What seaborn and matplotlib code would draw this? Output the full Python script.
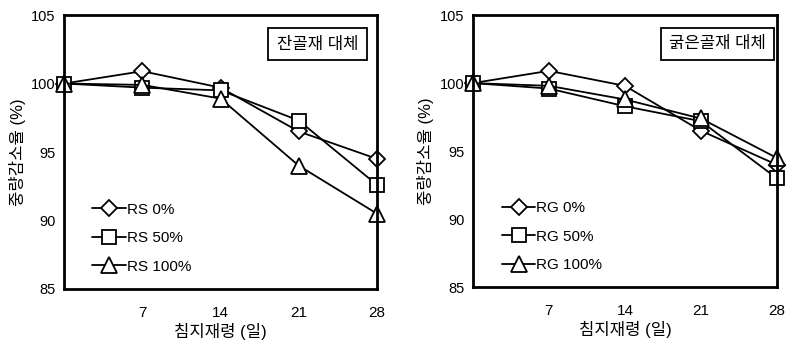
import matplotlib
matplotlib.use("Agg")
import matplotlib.pyplot as plt
import seaborn as sns
import pandas as pd

sns.set_theme(style="white")
plt.rcParams['font.family'] = ['Liberation Sans', 'Noto Sans CJK KR']

days = [0, 7, 14, 21, 28]

rs_labels = ["RS 0%", "RS 50%", "RS 100%"]
rs_0 = [100.0, 100.9, 99.7, 96.5, 94.5]
rs_50 = [100.0, 99.7, 99.5, 97.3, 92.6]
rs_100 = [100.0, 99.9, 98.9, 94.0, 90.5]

rg_labels = ["RG 0%", "RG 50%", "RG 100%"]
rg_0 = [100.0, 100.9, 99.8, 96.5, 94.0]
rg_50 = [100.0, 99.6, 98.3, 97.2, 93.0]
rg_100 = [100.0, 99.8, 98.8, 97.4, 94.5]

panel_titles = ["잔골재 대체", "굵은골재 대체"]
x_ticks = [7, 14, 21, 28]
y_ticks = [85, 90, 95, 100, 105]
x_label = "침지재령 (일)"
y_label = "중량감소율 (%)"


def long_table(labels, series):
    rows = []
    for lab, vals in zip(labels, series):
        for d, v in zip(days, vals):
            rows.append({"day": d, "value": v, "mix": lab})
    return pd.DataFrame(rows)


fig = plt.figure(figsize=(7.92, 3.42), dpi=100)
ax_l = fig.add_axes([0.081, 0.155, 0.395, 0.801])
ax_r = fig.add_axes([0.597, 0.160, 0.384, 0.796])

marker_map = ["D", "s", "^"]
marker_sizes = [8, 10, 12]

for ax, labels, series, title, box_x, leg_x in [
    (ax_l, rs_labels, [rs_0, rs_50, rs_100], panel_titles[0], 0.94, 0.065),
    (ax_r, rg_labels, [rg_0, rg_50, rg_100], panel_titles[1], 0.964, 0.07),
]:
    df = long_table(labels, series)
    for i, lab in enumerate(labels):
        sns.lineplot(
            data=df[df["mix"] == lab], x="day", y="value", ax=ax,
            color="black", linewidth=1.3, marker=marker_map[i],
            markersize=marker_sizes[i], markerfacecolor="white",
            markeredgecolor="black", markeredgewidth=1.3, label=lab,
            zorder=3 + i, clip_on=False,
        )
    ax.set_xlim(0, 28)
    ax.set_ylim(85, 105)
    ax.set_xticks(x_ticks)
    ax.set_yticks(y_ticks)
    ax.tick_params(axis="x", direction="in", length=4, width=1, pad=12,
                   labelsize=11, colors="black")
    ax.tick_params(axis="y", direction="out", length=3, width=1, pad=3,
                   labelsize=10.5, colors="black")
    for sp in ax.spines.values():
        sp.set_linewidth(2)
        sp.set_color("black")
        sp.set_zorder(10)
    ax.set_xlabel(x_label, fontsize=12, labelpad=2, color="black")
    ax.set_ylabel(y_label, fontsize=12, labelpad=4, color="black")
    ax.text(box_x, 0.894, title, transform=ax.transAxes, ha="right", va="center",
            fontsize=12, color="black",
            bbox=dict(boxstyle="square,pad=0.5", facecolor="white",
                      edgecolor="black", linewidth=1.3))
    ax.legend(loc="lower left", bbox_to_anchor=(leg_x, 0.028), frameon=False,
              fontsize=11, handlelength=2.2, labelspacing=0.95,
              handletextpad=0.05, borderpad=0, labelcolor="black")

fig.savefig("out.png", dpi=100, facecolor="white")
